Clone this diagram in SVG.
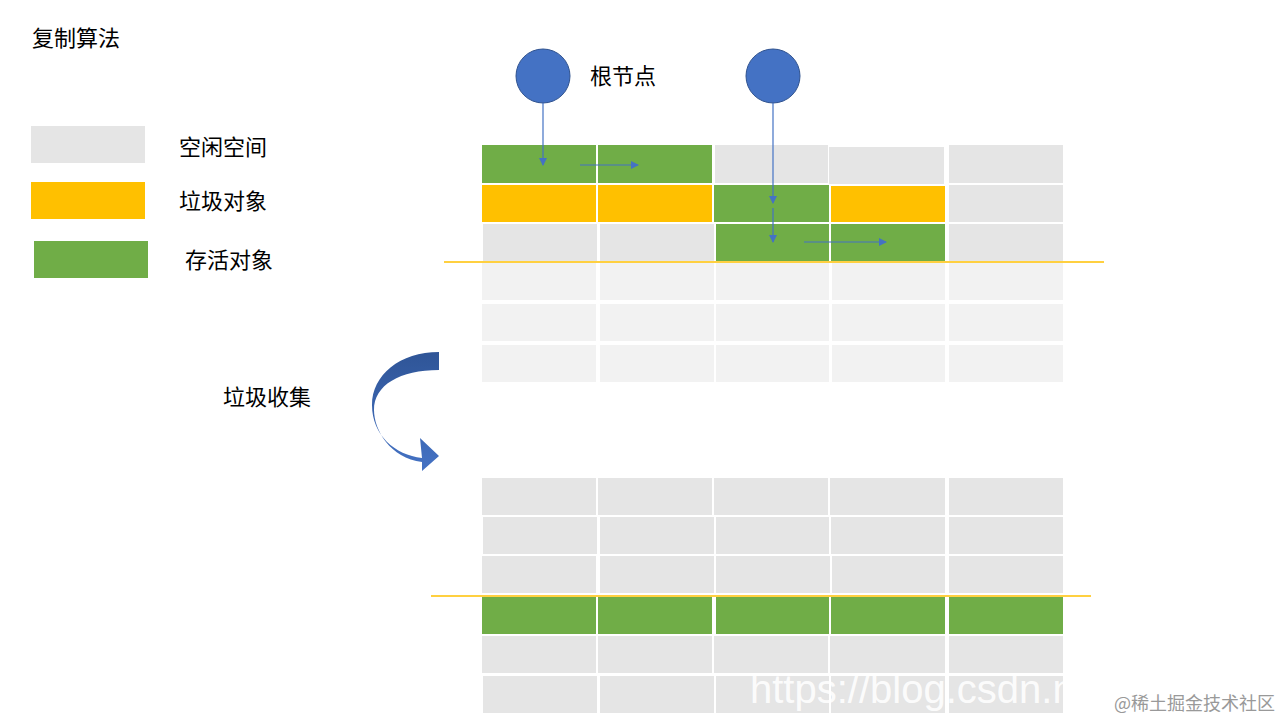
<svg xmlns="http://www.w3.org/2000/svg" width="1280" height="720" viewBox="0 0 1280 720">
<style>
text{font-family:"Noto Sans CJK SC","Liberation Sans",sans-serif;font-size:22px;fill:#000}
.e{fill:#E5E5E5}.l{fill:#F2F2F2}.g{fill:#70AD47}.y{fill:#FFC000}
.c{fill:#4472C4;stroke:#2F528F;stroke-width:1}
.a{stroke:#4472C4;stroke-width:1.2;fill:none;marker-end:url(#ah)}
</style>
<defs><marker id="ah" markerWidth="8" markerHeight="8" refX="7" refY="4" orient="auto" markerUnits="userSpaceOnUse"><path d="M0,0L8,4L0,8Z" fill="#4472C4"/></marker>
<linearGradient id="cg" x1="0" y1="0" x2="0" y2="1"><stop offset="0" stop-color="#2F5597"/><stop offset="1" stop-color="#4472C4"/></linearGradient></defs>
<rect width="1280" height="720" fill="#fff"/>
<text x="32" y="46">复制算法</text>
<g id="legend">
<rect x="31" y="126" width="114" height="37" class="e"/><text x="179" y="155">空闲空间</text>
<rect x="31" y="182" width="114" height="37" class="y"/><text x="179" y="209">垃圾对象</text>
<rect x="34" y="241" width="114" height="37" class="g"/><text x="185" y="268">存活对象</text>
</g>
<g id="top-grid">
<rect x="482" y="145" width="114" height="38" class="g"/><rect x="598" y="145" width="114" height="38" class="g"/><rect x="715" y="145" width="113" height="38" class="e"/><rect x="829" y="147" width="115" height="37" class="e"/><rect x="949" y="145" width="114" height="38" class="e"/>
<rect x="482" y="185" width="114" height="37" class="y"/><rect x="598" y="185" width="114" height="37" class="y"/><rect x="714" y="185" width="115" height="37" class="g"/><rect x="831" y="186" width="114" height="36" class="y"/><rect x="949" y="185" width="114" height="37" class="e"/>
<rect x="483" y="224" width="114" height="37" class="e"/><rect x="600" y="224" width="114" height="37" class="e"/><rect x="716" y="224" width="113" height="37" class="g"/><rect x="831" y="224" width="114" height="37" class="g"/><rect x="949" y="224" width="114" height="37" class="e"/>
<g class="l">
<rect x="482" y="263" width="114" height="37"/><rect x="600" y="263" width="114" height="37"/><rect x="716" y="263" width="113" height="37"/><rect x="832" y="263" width="113" height="37"/><rect x="949" y="263" width="114" height="37"/>
<rect x="482" y="304" width="114" height="37"/><rect x="600" y="304" width="114" height="37"/><rect x="716" y="304" width="113" height="37"/><rect x="832" y="304" width="113" height="37"/><rect x="949" y="304" width="114" height="37"/>
<rect x="482" y="345" width="114" height="37"/><rect x="600" y="345" width="114" height="37"/><rect x="716" y="345" width="113" height="37"/><rect x="832" y="345" width="113" height="37"/><rect x="949" y="345" width="114" height="37"/>
</g>
<line x1="444" y1="262" x2="1104" y2="262" stroke="#FFC000" stroke-width="1.5"/>
</g>
<g id="root1"><circle cx="543" cy="76" r="27" class="c"/></g>
<g id="root2"><circle cx="773" cy="76" r="27" class="c"/></g>
<text x="590" y="84">根节点</text>
<g id="connectors">
<path class="a" d="M543,103V165"/>
<path class="a" d="M580,165H638"/>
<path class="a" d="M773,103V203"/>
<path class="a" d="M773,208V242"/>
<path class="a" d="M804,242H886"/>
</g>
<g id="gc-arrow">
<path d="M439,352 C400,352 372,375 372,405 C372,435 395,455 422,458 L420,438 L439,456 L422,471 L422,462 C390,458 374,430 374,410 C374,385 400,370 439,370 Z" fill="url(#cg)"/>
<text x="223" y="405">垃圾收集</text>
</g>
<g id="bottom-grid" class="e">
<rect x="482" y="478" width="114" height="37"/><rect x="598" y="478" width="114" height="37"/><rect x="714" y="478" width="114" height="37"/><rect x="830" y="478" width="115" height="37"/><rect x="949" y="478" width="114" height="37"/>
<rect x="483" y="517" width="114" height="37"/><rect x="600" y="517" width="114" height="37"/><rect x="716" y="517" width="113" height="37"/><rect x="831" y="517" width="114" height="37"/><rect x="949" y="517" width="114" height="37"/>
<rect x="482" y="556" width="114" height="37"/><rect x="600" y="556" width="114" height="37"/><rect x="716" y="556" width="114" height="37"/><rect x="832" y="556" width="113" height="37"/><rect x="949" y="556" width="114" height="37"/>
<rect x="482" y="597" width="114" height="37" class="g"/><rect x="598" y="597" width="114" height="37" class="g"/><rect x="716" y="597" width="113" height="37" class="g"/><rect x="831" y="597" width="114" height="37" class="g"/><rect x="949" y="597" width="114" height="37" class="g"/>
<rect x="482" y="636" width="114" height="37"/><rect x="598" y="636" width="114" height="37"/><rect x="714" y="636" width="114" height="37"/><rect x="830" y="636" width="115" height="37"/><rect x="949" y="636" width="114" height="37"/>
<rect x="483" y="676" width="114" height="37"/><rect x="600" y="676" width="114" height="37"/><rect x="716" y="676" width="113" height="37"/><rect x="831" y="676" width="114" height="37"/><rect x="949" y="676" width="114" height="37"/>
</g>
<line x1="431" y1="596" x2="1091" y2="596" stroke="#FFC000" stroke-width="1.5"/>
<text x="750" y="703" style="font-family:'Liberation Sans',sans-serif;font-size:40px;fill:#fff;fill-opacity:0.9">https://blog.csdn.n</text>
<text x="1114" y="710" style="font-size:18px;fill:#999">@稀土掘金技术社区</text>
</svg>
